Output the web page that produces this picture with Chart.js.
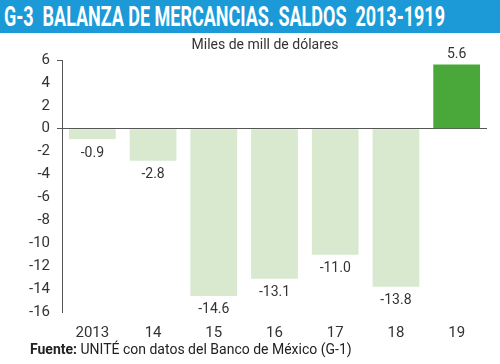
<!DOCTYPE html>
<html>
<head>
<meta charset="utf-8">
<script src="https://cdn.jsdelivr.net/npm/chart.js@4/dist/chart.umd.min.js"></script>
<style>
  html, body { margin: 0; padding: 0; background: #fff; }
  #wrap { position: relative; width: 500px; height: 364px; overflow: hidden; background: #fff; }
  #title { position: absolute; left: 0; top: 0; width: 500px; height: 33px; background: #1b9ad7; }
  #ttext { position: absolute; left: 4px; top: 1px; color: #fff; font-family: "Roboto", sans-serif; font-weight: bold; font-size: 27px;
    line-height: 32px; white-space: pre; transform-origin: 0 0; display: inline-block; }
  #sub { position: absolute; top: 36px; left: 165px; width: 200px; text-align: center; font-family: "Roboto", sans-serif; font-size: 14px; color: #333; }
  #foot { position: absolute; left: 30px; top: 341px; font-family: "Roboto", sans-serif; font-size: 14px; color: #222; }
  #foot b { font-weight: bold; }
  #cv { position: absolute; left: 0; top: 0; }
</style>
</head>
<body>
<div id="wrap">
  <canvas id="cv" width="500" height="354"></canvas>
  <div id="title"><span id="ttext">G-3  BALANZA DE MERCANCIAS. SALDOS  2013-1919</span></div>
  <div id="sub">Miles de mill de dólares</div>
  <div id="foot"><b>Fuente:</b> UNITÉ con datos del Banco de México (G-1)</div>
</div>
<script>
const categories = ["2013", "14", "15", "16", "17", "18", "19"];
const saldos = [-0.9, -2.8, -14.6, -13.1, -11.0, -13.8, 5.6];
const yTicks = [6, 4, 2, 0, -2, -4, -6, -8, -10, -12, -14, -16];

// condense the title to the reference width
const tt = document.getElementById('ttext');
const w = tt.getBoundingClientRect().width;
tt.style.transform = 'scaleX(' + (441 / w) + ')';

const baseFont = '"Roboto", sans-serif';

const labelPlugin = {
  id: 'barLabels',
  afterDatasetsDraw(chart) {
    const ctx = chart.ctx;
    const meta = chart.getDatasetMeta(0);
    ctx.save();
    ctx.font = '14px ' + baseFont;
    ctx.fillStyle = '#333';
    ctx.textAlign = 'center';
    meta.data.forEach((bar, i) => {
      const v = saldos[i];
      if (v < 0) {
        ctx.textBaseline = 'top';
        ctx.fillText(v.toFixed(1), bar.x, bar.y + 7);
      } else {
        ctx.textBaseline = 'bottom';
        ctx.fillText(v.toFixed(1), bar.x, bar.y - 3);
      }
    });
    ctx.restore();
  }
};

new Chart(document.getElementById('cv'), {
  type: 'bar',
  data: {
    labels: categories,
    datasets: [{
      data: saldos,
      backgroundColor: saldos.map(v => v >= 0 ? '#4aa83b' : '#d9e9d0'),
      borderWidth: 0,
      barPercentage: 0.77,
      categoryPercentage: 1.0
    }]
  },
  options: {
    responsive: false,
    animation: false,
    layout: { padding: { top: 60, right: 13, left: 0, bottom: 0 } },
    plugins: { legend: { display: false }, tooltip: { enabled: false }, title: { display: false } },
    scales: {
      x: {
        grid: { display: false, drawTicks: false },
        border: { display: false },
        ticks: { color: '#333', font: { family: baseFont, size: 15 }, padding: 12 }
      },
      y: {
        min: -16, max: 6,
        afterBuildTicks: (s) => { s.ticks = yTicks.map(v => ({ value: v })); },
        grid: {
          drawOnChartArea: true,
          color: (c) => c.tick && c.tick.value === 0 ? '#555' : 'rgba(0,0,0,0)',
          tickColor: (c) => c.tick && (c.tick.value === 0 || c.tick.value === 6) ? '#555' : 'rgba(0,0,0,0)',
          tickLength: 5,
          lineWidth: 1
        },
        border: { display: true, color: '#555', width: 1 },
        ticks: { color: '#333', font: { family: baseFont, size: 15 }, padding: 7 },
        afterFit: (s) => { s.width = 62; }
      }
    }
  },
  plugins: [labelPlugin]
});
</script>
</body>
</html>
